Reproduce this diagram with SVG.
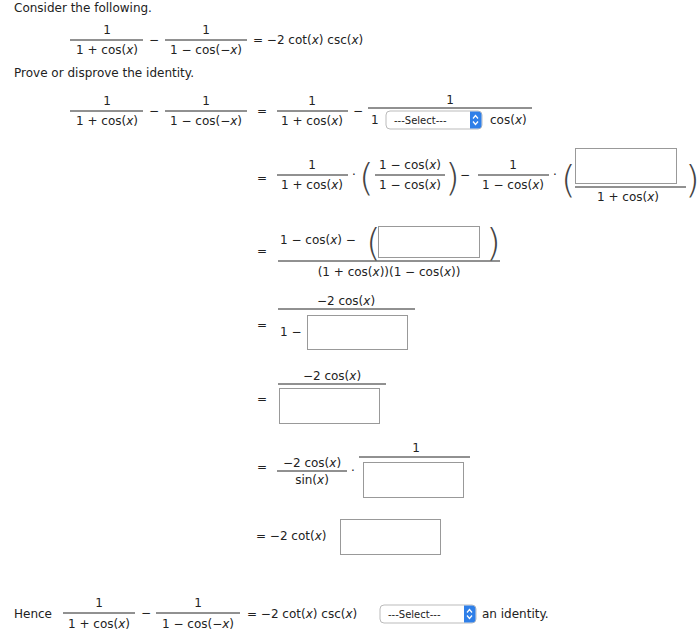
<svg xmlns="http://www.w3.org/2000/svg" width="699" height="635" viewBox="0 0 699 635">
<style>
text{font-family:"DejaVu Sans","Verdana",sans-serif;font-size:12px;fill:#222}
.c{text-anchor:middle}
.sm{font-size:10px}
.bar{stroke:#222;stroke-width:1}
.box{fill:#fff;stroke:#999;stroke-width:1}
.sel{fill:#fff;stroke:#bbb;stroke-width:1}
.p{font-size:38px;font-weight:100;fill:#444}
i{font-style:italic}
</style>
<rect width="699" height="635" fill="#fff"/>
<defs>
<g id="sel">
<rect class="sel" x="0" y="0" width="96" height="18" rx="4"/>
<text class="sm" x="8" y="13">---Select---</text>
<path d="M84 0.5h8a3.5 3.5 0 0 1 3.5 3.5v10a3.5 3.5 0 0 1-3.5 3.5h-8z" fill="#2f7fe8"/>
<path d="M87 7.5l2.5-3 2.5 3M87 10.5l2.5 3 2.5-3" fill="none" stroke="#fff" stroke-width="1.2"/>
</g>
</defs>
<text x="14" y="12">Consider the following.</text>
<g id="eq1">
<text class="c" x="107" y="34">1</text><line class="bar" x1="70" y1="40" x2="143" y2="40"/><text class="c" x="107" y="54">1 + cos(<tspan font-style="italic">x</tspan>)</text>
<text class="c" x="154" y="44">−</text>
<text class="c" x="206" y="34">1</text><line class="bar" x1="165" y1="40" x2="247" y2="40"/><text class="c" x="206" y="54">1 − cos(−<tspan font-style="italic">x</tspan>)</text>
<text x="253" y="44">= −2 cot(<tspan font-style="italic">x</tspan>) csc(<tspan font-style="italic">x</tspan>)</text>
</g>
<text x="14" y="77">Prove or disprove the identity.</text>
<g id="rowA">
<text class="c" x="107" y="105">1</text><line class="bar" x1="70" y1="111" x2="143" y2="111"/><text class="c" x="107" y="125">1 + cos(<tspan font-style="italic">x</tspan>)</text>
<text class="c" x="154" y="115">−</text>
<text class="c" x="206" y="105">1</text><line class="bar" x1="165" y1="111" x2="247" y2="111"/><text class="c" x="206" y="125">1 − cos(−<tspan font-style="italic">x</tspan>)</text>
<text class="c" x="262" y="115">=</text>
<text class="c" x="312" y="105">1</text><line class="bar" x1="277" y1="111" x2="348" y2="111"/><text class="c" x="312" y="125">1 + cos(<tspan font-style="italic">x</tspan>)</text>
<text class="c" x="358" y="115">−</text>
<text class="c" x="450" y="104">1</text><line class="bar" x1="368" y1="108" x2="532" y2="108"/>
<text x="371" y="124">1</text>
<use href="#sel" x="386" y="111"/>
<text x="490" y="124">cos(<tspan font-style="italic">x</tspan>)</text>
</g>
<g id="rowB">
<text class="c" x="262" y="182">=</text>
<text class="c" x="312" y="169">1</text><line class="bar" x1="277" y1="175" x2="348" y2="175"/><text class="c" x="312" y="189">1 + cos(<tspan font-style="italic">x</tspan>)</text>
<text class="c" x="354" y="179">·</text>
<text class="p" x="359" y="190">(</text>
<text class="c" x="410" y="169">1 − cos(<tspan font-style="italic">x</tspan>)</text><line class="bar" x1="375" y1="175" x2="445" y2="175"/><text class="c" x="410" y="189">1 − cos(<tspan font-style="italic">x</tspan>)</text>
<text class="p" x="445" y="190">)</text>
<text class="c" x="465" y="179">−</text>
<text class="c" x="513" y="169">1</text><line class="bar" x1="478" y1="175" x2="549" y2="175"/><text class="c" x="513" y="189">1 − cos(<tspan font-style="italic">x</tspan>)</text>
<text class="c" x="555" y="179">·</text>
<text class="p" x="561" y="192">(</text>
<rect class="box" x="575.5" y="148.5" width="101" height="35"/>
<line class="bar" x1="575" y1="187" x2="686" y2="187"/>
<text class="c" x="628" y="201">1 + cos(<tspan font-style="italic">x</tspan>)</text>
<text class="p" x="685" y="192">)</text>
</g>
<g id="rowC">
<text class="c" x="262" y="255">=</text>
<text x="280" y="244">1 − cos(<tspan font-style="italic">x</tspan>) −</text>
<text class="p" x="366" y="255">(</text>
<rect class="box" x="378.5" y="226.5" width="101" height="31"/>
<text class="p" x="486" y="255">)</text>
<line class="bar" x1="278" y1="261" x2="500" y2="261"/>
<text class="c" x="389" y="276">(1 + cos(<tspan font-style="italic">x</tspan>))(1 − cos(<tspan font-style="italic">x</tspan>))</text>
</g>
<g id="rowD">
<text class="c" x="262" y="329">=</text>
<text class="c" x="346" y="305">−2 cos(<tspan font-style="italic">x</tspan>)</text>
<line class="bar" x1="278" y1="309" x2="415" y2="309"/>
<text x="280" y="336">1 −</text>
<rect class="box" x="307.5" y="315.5" width="100" height="34"/>
</g>
<g id="rowE">
<text class="c" x="262" y="403">=</text>
<text class="c" x="332" y="380">−2 cos(<tspan font-style="italic">x</tspan>)</text>
<line class="bar" x1="278" y1="384" x2="386" y2="384"/>
<rect class="box" x="279.5" y="388.5" width="100" height="35"/>
</g>
<g id="rowF">
<text class="c" x="262" y="471">=</text>
<text class="c" x="312" y="467">−2 cos(<tspan font-style="italic">x</tspan>)</text>
<line class="bar" x1="277" y1="471" x2="347" y2="471"/>
<text class="c" x="312" y="484">sin(<tspan font-style="italic">x</tspan>)</text>
<text class="c" x="353" y="475">·</text>
<text class="c" x="416" y="452">1</text>
<line class="bar" x1="359" y1="457" x2="470" y2="457"/>
<rect class="box" x="363.5" y="462.5" width="100" height="35"/>
</g>
<g id="rowG">
<text x="256" y="540">= −2 cot(<tspan font-style="italic">x</tspan>)</text>
<rect class="box" x="340.5" y="519.5" width="100" height="35"/>
</g>
<g id="hence">
<text x="14" y="618">Hence</text>
<text class="c" x="99" y="607">1</text><line class="bar" x1="63" y1="613" x2="135" y2="613"/><text class="c" x="99" y="628">1 + cos(<tspan font-style="italic">x</tspan>)</text>
<text class="c" x="146" y="617">−</text>
<text class="c" x="198" y="607">1</text><line class="bar" x1="156" y1="613" x2="240" y2="613"/><text class="c" x="198" y="628">1 − cos(−<tspan font-style="italic">x</tspan>)</text>
<text x="247" y="618">= −2 cot(<tspan font-style="italic">x</tspan>) csc(<tspan font-style="italic">x</tspan>)</text>
<use href="#sel" x="380" y="605"/>
<text x="482" y="618">an identity.</text>
</g>
</svg>
